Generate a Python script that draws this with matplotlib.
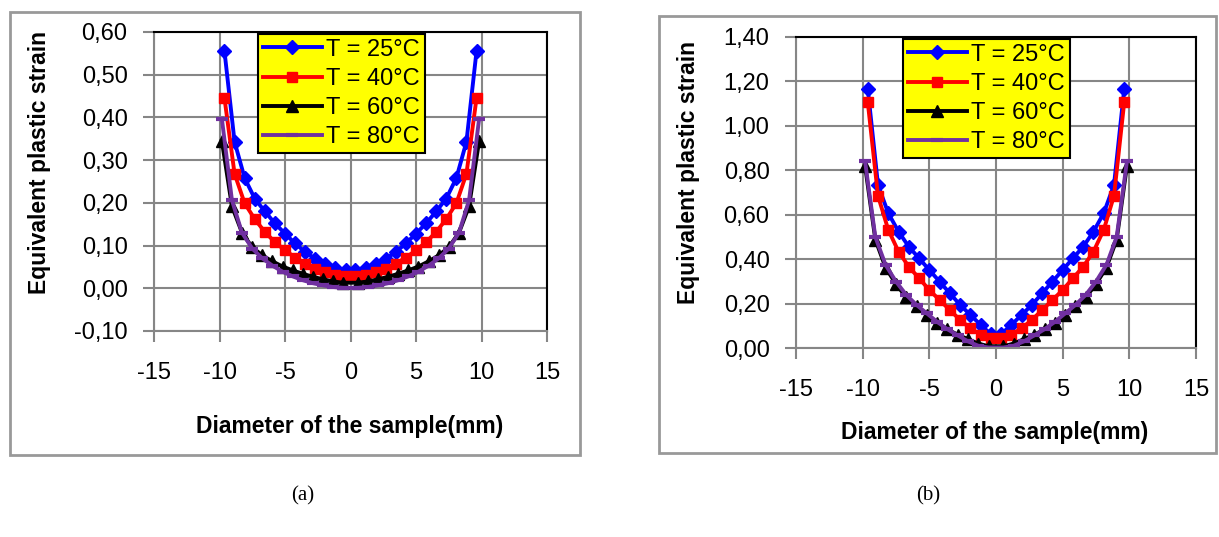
import numpy as np
import matplotlib.pyplot as plt
from matplotlib.patches import Rectangle
from matplotlib.ticker import FuncFormatter, MultipleLocator

plt.rcParams['font.family'] = ['Liberation Sans', 'DejaVu Sans']
plt.rcParams['axes.unicode_minus'] = False

W, H = 1219, 537

# node positions along the diameter (mm)
x_br = [-9.62, -8.85, -8.08, -7.31, -6.54, -5.77, -5.00, -4.23, -3.46, -2.69, -1.92, -1.15, -0.38,
        0.38, 1.15, 1.92, 2.69, 3.46, 4.23, 5.00, 5.77, 6.54, 7.31, 8.08, 8.85, 9.62]
x_kp = [-9.82, -9.05, -8.28, -7.50, -6.73, -5.96, -5.19, -4.42, -3.65, -2.88, -2.10, -1.33, -0.56,
        0.56, 1.33, 2.10, 2.88, 3.65, 4.42, 5.19, 5.96, 6.73, 7.50, 8.28, 9.05, 9.82]

labels = ['T = 25°C', 'T = 40°C', 'T = 60°C', 'T = 80°C']

# (a)
t25_a = [0.555, 0.343, 0.258, 0.210, 0.180, 0.152, 0.128, 0.105, 0.085, 0.069, 0.057, 0.048, 0.043,
         0.043, 0.048, 0.057, 0.069, 0.085, 0.105, 0.128, 0.152, 0.180, 0.210, 0.258, 0.343, 0.555]
t40_a = [0.445, 0.268, 0.199, 0.162, 0.132, 0.108, 0.089, 0.072, 0.058, 0.046, 0.037, 0.031, 0.028,
         0.028, 0.031, 0.037, 0.046, 0.058, 0.072, 0.089, 0.108, 0.132, 0.162, 0.199, 0.268, 0.445]
t60_a = [0.345, 0.192, 0.130, 0.096, 0.077, 0.063, 0.051, 0.042, 0.034, 0.027, 0.021, 0.016, 0.013,
         0.013, 0.016, 0.021, 0.027, 0.034, 0.042, 0.051, 0.063, 0.077, 0.096, 0.130, 0.192, 0.345]
t80_a = [0.397, 0.206, 0.130, 0.093, 0.070, 0.053, 0.039, 0.028, 0.019, 0.012, 0.007, 0.003, 0.001,
         0.001, 0.003, 0.007, 0.012, 0.019, 0.028, 0.039, 0.053, 0.070, 0.093, 0.130, 0.206, 0.397]

# (b)
t25_b = [1.168, 0.734, 0.607, 0.524, 0.456, 0.404, 0.351, 0.299, 0.246, 0.194, 0.149, 0.104, 0.062,
         0.062, 0.104, 0.149, 0.194, 0.246, 0.299, 0.351, 0.404, 0.456, 0.524, 0.607, 0.734, 1.168]
t40_b = [1.108, 0.685, 0.532, 0.434, 0.366, 0.314, 0.261, 0.216, 0.171, 0.126, 0.089, 0.060, 0.045,
         0.045, 0.060, 0.089, 0.126, 0.171, 0.216, 0.261, 0.314, 0.366, 0.434, 0.532, 0.685, 1.108]
t60_b = [0.820, 0.488, 0.362, 0.288, 0.228, 0.188, 0.150, 0.114, 0.084, 0.060, 0.040, 0.020, 0.008,
         0.008, 0.020, 0.040, 0.060, 0.084, 0.114, 0.150, 0.188, 0.228, 0.288, 0.362, 0.488, 0.820]
t80_b = [0.840, 0.500, 0.374, 0.299, 0.239, 0.194, 0.156, 0.118, 0.085, 0.057, 0.030, 0.010, 0.002,
         0.002, 0.010, 0.030, 0.057, 0.085, 0.118, 0.156, 0.194, 0.239, 0.299, 0.374, 0.500, 0.840]

GRID = '#868686'


def fx(px):
    return px / W


def fy(py):
    return 1 - py / H


def panel(rect, series, ylim, ystep, leg_box):
    ax = fig.add_axes(rect)
    xs = [x_br, x_br, x_kp, x_kp]
    ax.plot(xs[0], series[0], color='#0000FF', lw=2.8, marker='D', ms=7.5, label=labels[0])
    ax.plot(xs[1], series[1], color='#FF0000', lw=2.8, marker='s', ms=7.5, label=labels[1])
    ax.plot(xs[2], series[2], color='#000000', lw=2.8, marker='^', ms=8.5, label=labels[2])
    ax.plot(xs[3], series[3], color='#7030A0', lw=2.8, marker='_', ms=8, mew=3, label=labels[3])
    ax.set_xlim(-15, 15)
    ax.set_ylim(*ylim)
    ax.xaxis.set_major_locator(MultipleLocator(5))
    ax.yaxis.set_major_locator(MultipleLocator(ystep))
    ax.yaxis.set_major_formatter(FuncFormatter(lambda v, p: ('%.2f' % v).replace('.', ',')))
    ax.grid(True, color=GRID, lw=1.5)
    ax.set_axisbelow(True)
    for s in ['left', 'bottom']:
        ax.spines[s].set_color(GRID)
        ax.spines[s].set_linewidth(1.5)
    for s in ['top', 'right']:
        ax.spines[s].set_color('black')
        ax.spines[s].set_linewidth(1.5)
    ax.tick_params(axis='both', direction='out', length=8, width=1.5, color=GRID,
                   labelsize=17)
    ax.tick_params(axis='y', pad=11)
    ax.tick_params(axis='x', pad=14)
    leg = ax.legend(loc='upper left', bbox_to_anchor=leg_box, bbox_transform=fig.transFigure,
                    fontsize=17, frameon=True, fancybox=False, edgecolor='black',
                    facecolor='#FFFF00', framealpha=1, borderpad=0.2, labelspacing=0.3,
                    handlelength=2.5, handletextpad=0.2, borderaxespad=0)
    leg.get_frame().set_linewidth(1.5)
    return ax


fig = plt.figure(figsize=(W / 100, H / 100), dpi=100)

# chart frames
fig.patches.append(Rectangle((fx(10), fy(455)), fx(570), 443 / H, transform=fig.transFigure,
                             fill=False, ec='#999999', lw=2))
fig.patches.append(Rectangle((fx(659), fy(453)), fx(557), 437 / H, transform=fig.transFigure,
                             fill=False, ec='#999999', lw=2))

panel([fx(154), fy(331), fx(393), 299 / H], [t25_a, t40_a, t60_a, t80_a],
      (-0.10, 0.60), 0.10, (fx(258), fy(34)))
panel([fx(796), fy(348), fx(400), 311 / H], [t25_b, t40_b, t60_b, t80_b],
      (0.0, 1.40), 0.20, (fx(903), fy(39)))

fig.text(fx(40), fy(163), 'Equivalent plastic strain', rotation=90, ha='center', va='center',
         fontsize=16.5, fontweight='bold')
fig.text(fx(350), fy(426), 'Diameter of the sample(mm)', ha='center', va='center',
         fontsize=16.5, fontweight='bold')
fig.text(fx(689), fy(172), 'Equivalent plastic strain', rotation=90, ha='center', va='center',
         fontsize=16.5, fontweight='bold')
fig.text(fx(995), fy(433), 'Diameter of the sample(mm)', ha='center', va='center',
         fontsize=16.5, fontweight='bold')

fig.text(fx(303), fy(496), '(a)', ha='center', va='center', fontsize=15,
         family=['Liberation Serif', 'DejaVu Serif'])
fig.text(fx(928), fy(496), '(b)', ha='center', va='center', fontsize=15,
         family=['Liberation Serif', 'DejaVu Serif'])

fig.savefig('out.png', dpi=100)
